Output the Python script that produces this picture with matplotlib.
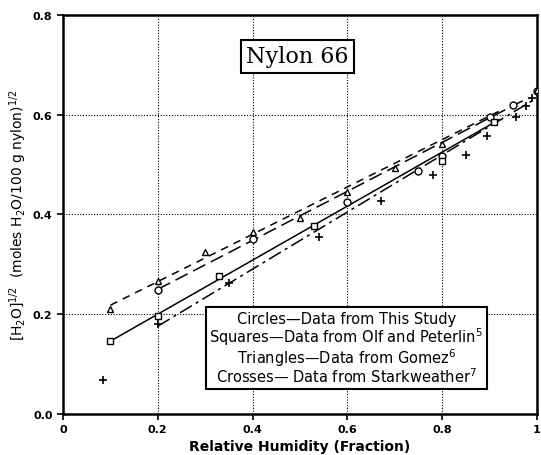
import matplotlib
matplotlib.use("Agg")
import matplotlib.pyplot as plt
import numpy as np

# Data
circ_x = [0.2, 0.4, 0.6, 0.75, 0.8, 0.9, 0.95, 1.0]
circ_y = [0.248, 0.351, 0.425, 0.487, 0.517, 0.595, 0.620, 0.647]
sq_x = [0.1, 0.2, 0.33, 0.53, 0.8, 0.91]
sq_y = [0.146, 0.196, 0.277, 0.377, 0.507, 0.585]
tri_x = [0.1, 0.2, 0.3, 0.4, 0.5, 0.6, 0.7, 0.8, 1.0]
tri_y = [0.210, 0.266, 0.325, 0.365, 0.393, 0.445, 0.493, 0.541, 0.650]
cross_x = [0.085, 0.2, 0.35, 0.54, 0.67, 0.78, 0.85, 0.895, 0.955, 0.977, 0.99]
cross_y = [0.068, 0.180, 0.262, 0.355, 0.427, 0.479, 0.519, 0.557, 0.595, 0.617, 0.633]

# fitted lines (endpoints)
tri_line_x = [0.1, 0.92]
tri_line_y = [0.218, 0.607]
circ_line_x = [0.2, 0.97]
circ_line_y = [0.250, 0.628]
sq_line_x = [0.1, 0.92]
sq_line_y = [0.146, 0.590]
cross_line_x = [0.2, 0.99]
cross_line_y = [0.176, 0.628]

xticks = [0, 0.2, 0.4, 0.6, 0.8, 1.0]
xticklabels = ["0", "0.2", "0.4", "0.6", "0.8", "1"]
yticks = [0.0, 0.2, 0.4, 0.6, 0.8]
yticklabels = ["0.0", "0.2", "0.4", "0.6", "0.8"]

fig = plt.figure(figsize=(5.41, 4.56), dpi=100)
ax = fig.add_axes([0.1165, 0.09, 0.876, 0.875])
ax.set_xlim(0, 1)
ax.set_ylim(0, 0.8)

lw = 1.1
ax.plot(tri_line_x, tri_line_y, color="black", lw=lw, dashes=(5, 4))
ax.plot(circ_line_x, circ_line_y, color="black", lw=lw, dashes=(9, 4))
ax.plot(sq_line_x, sq_line_y, color="black", lw=lw, linestyle="-")
ax.plot(cross_line_x, cross_line_y, color="black", lw=lw, dashes=(9, 3, 2, 3))

mk = dict(linestyle="none", markerfacecolor="white", markeredgecolor="black",
          markeredgewidth=1.0, zorder=5)
ax.plot(circ_x, circ_y, marker="o", markersize=5, **mk)
ax.plot(sq_x, sq_y, marker="s", markersize=5, **mk)
ax.plot(tri_x, tri_y, marker="^", markersize=5, **mk)
ax.plot(cross_x, cross_y, marker="+", markersize=6, linestyle="none",
        color="black", markeredgewidth=1.2, zorder=5)

ax.set_xticks(xticks)
ax.set_xticklabels(xticklabels, fontweight="bold", fontsize=8)
ax.set_yticks(yticks)
ax.set_yticklabels(yticklabels, fontweight="bold", fontsize=8)
ax.tick_params(direction="out", length=4, width=1.2)
ax.grid(True, linestyle=(0, (1, 1.5)), color="black", lw=0.8)
for s in ax.spines.values():
    s.set_linewidth(1.8)

ax.set_xlabel("Relative Humidity (Fraction)", fontweight="bold", fontsize=10, labelpad=3)
ax.set_ylabel(r"[H$_2$O]$^{1/2}$  (moles H$_2$O/100 g nylon)$^{1/2}$",
              fontsize=10, labelpad=3)

ax.text(0.495, 0.717, "Nylon 66", family="DejaVu Serif", fontsize=16,
        ha="center", va="center", zorder=10,
        bbox=dict(boxstyle="square,pad=0.25", facecolor="white",
                  edgecolor="black", linewidth=1.5))

legend_text = ("Circles\u2014Data from This Study\n"
               "Squares\u2014Data from Olf and Peterlin$^5$\n"
               "Triangles\u2014Data from Gomez$^6$\n"
               "Crosses\u2014 Data from Starkweather$^7$")
ax.text(0.598, 0.132, legend_text, fontsize=10.5, ha="center", va="center",
        linespacing=0.95, zorder=10,
        bbox=dict(boxstyle="square,pad=0.25", facecolor="white",
                  edgecolor="black", linewidth=1.5))

fig.savefig("out.png", dpi=100)
